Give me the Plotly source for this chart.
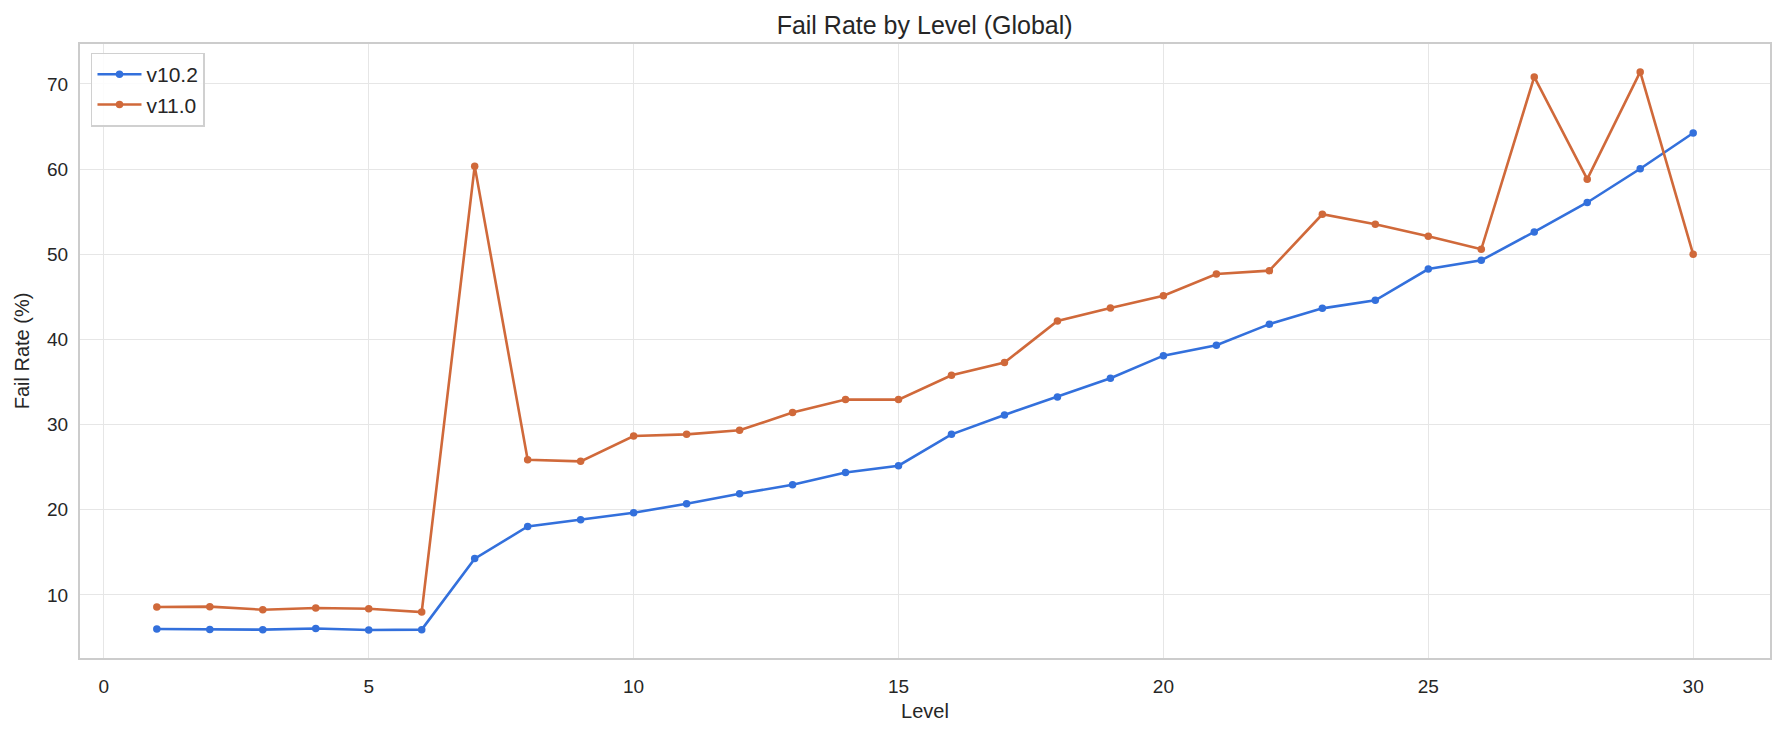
import plotly.graph_objects as go

levels = [1, 2, 3, 4, 5, 6, 7, 8, 9, 10, 11, 12, 13, 14, 15,
          16, 17, 18, 19, 20, 21, 22, 23, 24, 25, 26, 27, 28, 29, 30]
v10_2 = [6.00, 5.95, 5.93, 6.07, 5.88, 5.93, 14.27, 18.04, 18.84, 19.65,
         20.71, 21.88, 22.94, 24.38, 25.18, 28.86, 31.14, 33.25, 35.45, 38.10,
         39.33, 41.80, 43.65, 44.59, 48.27, 49.29, 52.63, 56.08, 60.04, 64.24]
v11_0 = [8.59, 8.63, 8.27, 8.47, 8.39, 8.00, 60.35, 25.88, 25.69, 28.67,
         28.86, 29.33, 31.43, 32.94, 32.94, 35.80, 37.29, 42.16, 43.69, 45.14,
         47.69, 48.08, 54.70, 53.53, 52.12, 50.59, 70.82, 58.82, 71.41, 50.00]
series_names = ["v10.2", "v11.0"]
series_colors = ["#3370dc", "#d0693a"]

TEXT = "#262626"
FONT = "Liberation Sans, Arial, sans-serif"

fig = go.Figure()
for name, vals, col in zip(series_names, [v10_2, v11_0], series_colors):
    fig.add_trace(go.Scatter(
        x=levels, y=vals, name=name, mode="lines+markers",
        line=dict(color=col, width=2.6),
        marker=dict(color=col, size=7.5),
    ))

fig.update_layout(
    width=1785, height=734,
    paper_bgcolor="white", plot_bgcolor="white",
    margin=dict(l=80, r=15, t=44, b=76, autoexpand=False),
    font=dict(family=FONT, color=TEXT, size=18),
    title=dict(text="Fail Rate by Level (Global)", x=0.518, xanchor="center",
               y=1 - 25 / 734, yanchor="middle", yref="container",
               font=dict(size=25, color=TEXT, family=FONT)),
    showlegend=True,
    legend=dict(x=0.0065, y=0.986, xanchor="left", yanchor="top",
                bgcolor="rgba(255,255,255,0.85)", bordercolor="#d0d0d0",
                borderwidth=1.5, font=dict(size=21, color=TEXT, family=FONT),
                itemwidth=44, tracegroupgap=0),
)

fig.update_xaxes(
    range=[-0.45, 31.45], tickmode="array", tickvals=[0, 5, 10, 15, 20, 25, 30],
    showgrid=True, gridcolor="#e6e6e6", gridwidth=1, zeroline=False,
    showline=True, linecolor="#cccccc", linewidth=2, mirror=True,
    ticks="", ticklabelstandoff=10, tickfont=dict(size=19, color=TEXT),
    title=dict(text="Level", font=dict(size=20, color=TEXT), standoff=8),
)
fig.update_yaxes(
    range=[2.60, 74.69], tickmode="array", tickvals=[10, 20, 30, 40, 50, 60, 70],
    showgrid=True, gridcolor="#e6e6e6", gridwidth=1, zeroline=False,
    showline=True, linecolor="#cccccc", linewidth=2, mirror=True,
    ticks="", ticklabelstandoff=6, tickfont=dict(size=19, color=TEXT),
    title=dict(text="Fail Rate (%)", font=dict(size=20, color=TEXT), standoff=12),
)

fig.write_html("out.html", config={"displayModeBar": False},
               post_script="document.body.style.margin='0';")
